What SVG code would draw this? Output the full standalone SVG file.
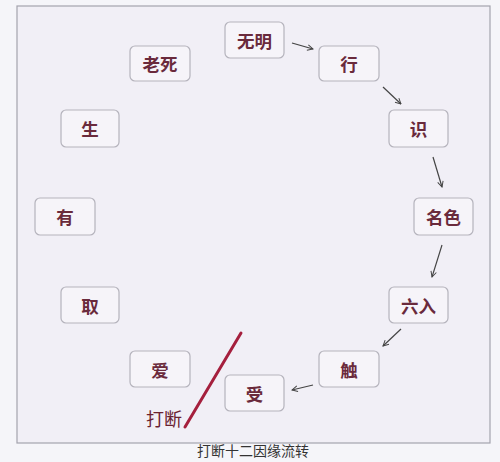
<svg xmlns="http://www.w3.org/2000/svg" width="500" height="462" viewBox="0 0 500 462">
<defs>
<style>
.node rect{fill:#f6f4f9;stroke:#b5b3bc;stroke-width:1.2}
.node text{font-family:"Noto Sans CJK SC","Noto Sans",sans-serif;font-size:17.5px;font-weight:bold;fill:#6a2a3c;text-anchor:middle;dominant-baseline:central}
.conn line{stroke:#444;stroke-width:1.2;marker-end:url(#ah)}
</style>
<marker id="ah" viewBox="0 0 10 10" refX="9" refY="5" markerWidth="7" markerHeight="7" orient="auto" markerUnits="userSpaceOnUse">
<path d="M1,1 L9,5 L1,9" fill="none" stroke="#444" stroke-width="1.4"/>
</marker>
</defs>
<rect x="0" y="0" width="500" height="462" fill="#f5f5f9"/>
<rect x="17" y="6" width="473" height="437" fill="#f1eff6" stroke="#a4a3ad" stroke-width="1.2"/>
<g id="n-wuming" class="node"><rect x="225" y="22" width="59" height="36" rx="5"/><text x="254.5" y="40">无明</text></g>
<g id="n-xing" class="node"><rect x="319" y="46" width="60" height="35" rx="5"/><text x="349" y="63.5">行</text></g>
<g id="n-shi" class="node"><rect x="389" y="110" width="59" height="37" rx="5"/><text x="418.5" y="128.5">识</text></g>
<g id="n-mingse" class="node"><rect x="414" y="198" width="59" height="37" rx="5"/><text x="443.5" y="216.5">名色</text></g>
<g id="n-liuru" class="node"><rect x="389" y="287" width="59" height="36" rx="5"/><text x="418.5" y="305">六入</text></g>
<g id="n-chu" class="node"><rect x="319" y="351" width="60" height="36" rx="5"/><text x="349" y="369">触</text></g>
<g id="n-shou" class="node"><rect x="225" y="375" width="59" height="36" rx="5"/><text x="254.5" y="393">受</text></g>
<g id="n-ai" class="node"><rect x="130" y="351" width="60" height="36" rx="5"/><text x="160" y="369">爱</text></g>
<g id="n-qu" class="node"><rect x="61" y="287" width="58" height="36" rx="5"/><text x="90" y="305">取</text></g>
<g id="n-you" class="node"><rect x="35" y="198" width="60" height="37" rx="5"/><text x="65" y="216.5">有</text></g>
<g id="n-sheng" class="node"><rect x="61" y="110" width="58" height="37" rx="5"/><text x="90" y="128.5">生</text></g>
<g id="n-laosi" class="node"><rect x="130" y="46" width="60" height="35" rx="5"/><text x="160" y="63.5">老死</text></g>
<g id="connectors" class="conn">
<line x1="292" y1="43" x2="313" y2="49"/>
<line x1="383" y1="87" x2="401" y2="104"/>
<line x1="433" y1="157" x2="442" y2="187"/>
<line x1="442" y1="245" x2="432" y2="277"/>
<line x1="401" y1="329" x2="383" y2="346"/>
<line x1="313" y1="385" x2="292" y2="390"/>
</g>
<g id="break">
<line x1="241" y1="333" x2="185" y2="427" stroke="#a51f3d" stroke-width="3" stroke-linecap="round"/>
<text x="164" y="418" font-family="Noto Sans CJK SC,Noto Sans,sans-serif" font-size="18" fill="#6a2231" text-anchor="middle" dominant-baseline="central">打断</text>
</g>
<text x="253" y="456" font-family="Noto Sans CJK SC,Noto Sans,sans-serif" font-size="14" fill="#333" text-anchor="middle">打断十二因缘流转</text>
</svg>
